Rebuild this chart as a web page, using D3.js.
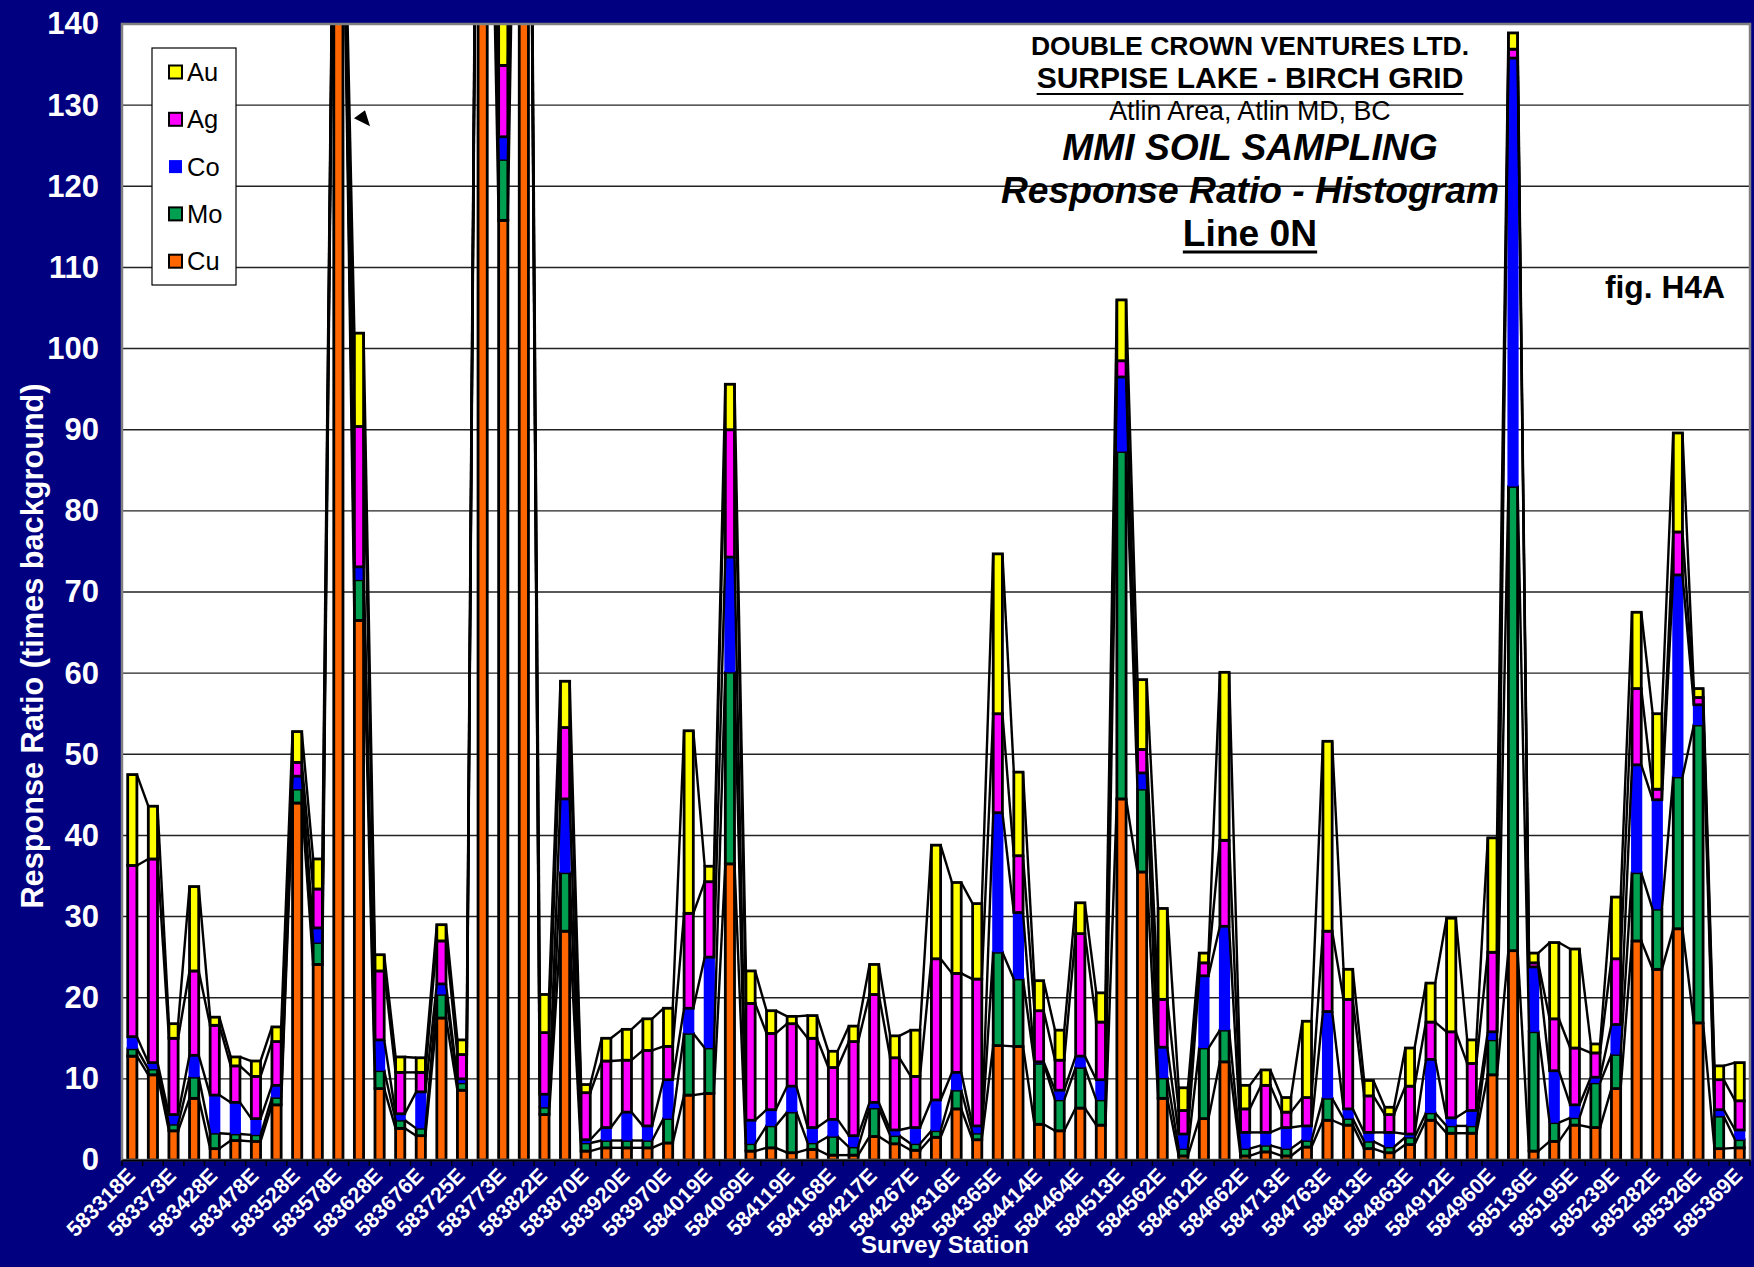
<!DOCTYPE html>
<html>
<head>
<meta charset="utf-8">
<script src="https://cdn.jsdelivr.net/npm/d3@7"></script>
<style>
  html, body { margin: 0; padding: 0; background: #000080; }
  svg { display: block; font-family: "Liberation Sans", Arial, sans-serif; }
</style>
</head>
<body>
<div id="chart"></div>
<script>
// -------------------- dados --------------------
const stations = [
  "583318E","583345E","583373E","583400E","583428E","583453E","583478E","583503E",
  "583528E","583553E","583578E","583603E","583628E","583652E","583676E","583700E",
  "583725E","583749E","583773E","583797E","583822E","583846E","583870E","583895E",
  "583920E","583945E","583970E","583994E","584019E","584044E","584069E","584094E",
  "584119E","584143E","584168E","584192E","584217E","584242E","584267E","584291E",
  "584316E","584340E","584365E","584389E","584414E","584439E","584464E","584488E",
  "584513E","584537E","584562E","584587E","584612E","584637E","584662E","584687E",
  "584713E","584738E","584763E","584788E","584813E","584838E","584863E","584887E",
  "584912E","584936E","584960E","585048E","585136E","585165E","585195E","585217E",
  "585239E","585260E","585282E","585304E","585326E","585347E","585369E"
];

// segment values, stacked bottom -> top: Cu, Mo, Co, Ag, Au
const cu = [12.8,10.5,3.6,7.6,1.4,2.4,2.3,6.8,44.0,24.1,160,66.5,8.8,3.9,3.0,17.5,
  8.6,190,115.8,200,5.6,28.2,1.1,1.5,1.5,1.5,2.1,8.0,8.2,36.5,1.1,1.5,
  0.9,1.3,0.6,0.6,2.9,2.0,1.2,2.8,6.3,2.5,14.1,14.0,4.4,3.6,6.4,4.3,
  44.5,35.5,7.6,0.5,5.1,12.1,0.5,1.0,0.5,1.6,4.9,4.3,1.4,0.9,1.9,4.9,
  3.3,3.3,10.5,25.8,1.1,2.3,4.3,4.0,8.8,27.0,23.5,28.5,16.9,1.4,1.5];
const mo = [0.9,0.7,0.8,2.6,1.9,0.8,0.8,0.9,1.7,2.7,2,5.0,2.2,1.0,0.9,2.9,
  0.9,3,7.5,3,0.9,7.2,1.0,0.9,0.9,0.9,3.0,7.6,5.6,23.6,0.9,2.7,
  5.0,0.8,2.3,1.0,3.5,1.0,0.8,0.8,2.3,0.8,11.5,8.3,7.5,3.8,5.0,3.1,
  42.8,10.2,2.5,0.9,8.7,3.9,0.9,0.8,0.9,0.8,2.7,0.8,0.9,0.7,0.9,0.9,
  0.9,0.9,4.3,57.2,14.7,2.3,0.9,5.5,4.2,8.4,7.4,18.7,36.7,4.0,1.0];
const co = [1.5,0.8,1.2,2.7,4.7,3.9,2.0,1.5,1.6,1.8,1,1.6,3.8,0.8,4.5,1.3,
  0.5,1,2.8,1,1.6,9.1,0.4,1.6,3.5,1.8,4.8,3.1,11.2,14.2,2.9,2.0,
  3.2,1.9,2.1,1.4,0.7,0.7,2.0,3.8,2.2,0.9,17.2,8.2,0.2,1.2,1.4,2.5,
  9.2,2.0,3.8,1.8,8.9,12.8,2.0,1.6,2.6,1.8,10.7,1.2,1.1,1.8,0.4,6.6,
  1.0,1.9,1.0,52.8,8.0,6.4,1.6,0.7,3.7,13.3,13.5,24.9,2.5,0.8,1.2];
const ag = [21.1,25.1,9.4,10.4,8.6,4.5,5.2,5.4,1.7,4.8,1.5,17.3,8.5,5.1,2.4,5.3,
  3.0,2,8.8,2,7.6,8.8,5.8,8.2,6.4,9.3,4.1,11.7,9.3,15.7,14.4,9.4,
  7.7,11.0,6.4,11.6,13.3,8.9,6.3,17.4,12.2,18.1,12.2,7.0,6.3,3.7,15.1,7.1,
  2.0,2.9,5.9,2.9,1.6,10.6,2.9,5.8,1.9,3.5,9.9,13.5,4.5,2.2,5.9,4.6,
  10.6,5.8,9.8,1.1,0.5,6.4,7.0,3.0,8.1,9.4,1.3,5.3,0.9,3.7,3.6];
const au = [11.2,6.5,1.8,10.4,1.0,1.1,1.9,1.8,3.8,3.7,1.5,11.5,2.0,1.9,1.8,2.0,
  1.8,2,14.2,2,4.7,5.7,1.0,2.8,3.8,3.9,4.7,22.5,1.9,5.6,4.0,2.8,
  0.9,2.8,2.0,1.9,3.7,2.7,5.7,14.0,11.2,9.3,19.7,10.3,3.7,3.7,3.8,3.6,
  7.5,8.6,11.2,2.8,1.2,20.7,2.9,1.9,1.8,9.4,23.4,3.7,1.9,0.9,4.7,4.8,
  14.0,2.9,14.1,2.0,1.2,9.4,12.2,1.1,7.6,9.4,9.3,12.2,1.1,1.7,4.7];

const yTicks = [0,10,20,30,40,50,60,70,80,90,100,110,120,130,140];

const seriesKeys   = ["Cu","Mo","Co","Ag","Au"];
const seriesColors = { Cu: "#FF6600", Mo: "#00A050", Co: "#0000FF", Ag: "#FF00FF", Au: "#FFFF00" };
const legendOrder  = ["Au","Ag","Co","Mo","Cu"];

const titleLines = [
  { text: "DOUBLE CROWN VENTURES LTD.", size: 26.5, weight: "bold", style: "normal", y: 55, under: false },
  { text: "SURPISE LAKE - BIRCH GRID",  size: 30,   weight: "bold", style: "normal", y: 88, under: true },
  { text: "Atlin Area, Atlin MD, BC",   size: 26.8, weight: "normal", style: "normal", y: 120, under: false },
  { text: "MMI SOIL SAMPLING",          size: 37.2, weight: "bold", style: "italic", y: 160, under: false },
  { text: "Response Ratio - Histogram", size: 37.2, weight: "bold", style: "italic", y: 203, under: false },
  { text: "Line 0N",                    size: 37.2, weight: "bold", style: "normal", y: 246, under: true }
];

// -------------------- layout --------------------
const W = 1754, H = 1267;
const plot = { left: 122, top: 24, right: 1750, bottom: 1160 };
const barW = 9.2;

const rows = stations.map((s, i) => ({ station: s, Cu: cu[i], Mo: mo[i], Co: co[i], Ag: ag[i], Au: au[i] }));
const stacked = d3.stack().keys(seriesKeys)(rows);

const x = d3.scaleBand().domain(stations).range([plot.left, plot.right]);
const y = d3.scaleLinear().domain([0, 140]).range([plot.bottom, plot.top]);
const cx = s => x(s) + x.bandwidth() / 2;

const svg = d3.select("#chart").append("svg")
  .attr("width", W).attr("height", H).attr("viewBox", `0 0 ${W} ${H}`);

svg.append("rect").attr("width", W).attr("height", H).attr("fill", "#000080");

svg.append("defs").append("clipPath").attr("id", "plotclip")
  .append("rect")
  .attr("x", plot.left).attr("y", plot.top)
  .attr("width", plot.right - plot.left).attr("height", plot.bottom - plot.top);

// area do grafico
svg.append("rect")
  .attr("x", plot.left).attr("y", plot.top)
  .attr("width", plot.right - plot.left).attr("height", plot.bottom - plot.top)
  .attr("fill", "#ffffff");

// grade
svg.append("g")
  .selectAll("line")
  .data(yTicks.filter(t => t > 0 && t < 140))
  .join("line")
  .attr("x1", plot.left).attr("x2", plot.right)
  .attr("y1", d => y(d)).attr("y2", d => y(d))
  .attr("stroke", "#222").attr("stroke-width", 1.4);

const body = svg.append("g").attr("clip-path", "url(#plotclip)");

// barras empilhadas (Co sem contorno, um pouco mais larga como no Excel)
stacked.forEach(layer => {
  const key = layer.key;
  const w = key === "Co" ? barW + 2 : barW;
  body.append("g")
    .selectAll("rect")
    .data(layer)
    .join("rect")
    .attr("x", d => cx(d.data.station) - w / 2)
    .attr("y", d => y(d[1]))
    .attr("width", w)
    .attr("height", d => Math.max(0, y(d[0]) - y(d[1])))
    .attr("fill", seriesColors[key])
    .attr("stroke", key === "Co" ? "none" : "#000")
    .attr("stroke-width", 2.8);
});

// linhas de serie (ligam o topo de cada segmento entre colunas vizinhas)
stacked.forEach(layer => {
  const segs = d3.pairs(layer);
  body.append("g")
    .selectAll("line")
    .data(segs)
    .join("line")
    .attr("x1", d => cx(d[0].data.station) + barW / 2)
    .attr("y1", d => y(d[0][1]))
    .attr("x2", d => cx(d[1].data.station) - barW / 2)
    .attr("y2", d => y(d[1][1]))
    .attr("stroke", "#000").attr("stroke-width", 2.4);
});

// borda
svg.append("rect")
  .attr("x", plot.left).attr("y", plot.top)
  .attr("width", plot.right - plot.left).attr("height", plot.bottom - plot.top)
  .attr("fill", "none").attr("stroke", "#808080").attr("stroke-width", 2.5);

// eixo Y
const yAxis = svg.append("g")
  .attr("transform", `translate(${plot.left},0)`)
  .call(d3.axisLeft(y).tickValues(yTicks).tickSize(0).tickPadding(23));
yAxis.select(".domain").remove();
yAxis.selectAll("text")
  .attr("fill", "#fff").attr("font-size", 31).attr("font-weight", "bold")
  .attr("font-family", "Liberation Sans, Arial, sans-serif");

// eixo X
const xAxis = svg.append("g")
  .attr("transform", `translate(0,${plot.bottom})`)
  .call(d3.axisBottom(x).tickSize(0).tickFormat((d, i) => i % 2 === 0 ? d : ""));
xAxis.select(".domain").attr("stroke", "#000").attr("stroke-width", 2.2);
xAxis.selectAll("text")
  .attr("fill", "#fff").attr("font-size", 21.5).attr("font-weight", "bold")
  .attr("font-family", "Liberation Sans, Arial, sans-serif")
  .attr("text-anchor", "end")
  .attr("dy", null).attr("y", null)
  .attr("transform", "translate(4,17) rotate(-45)");

// tracos entre as colunas
svg.append("g")
  .selectAll("line")
  .data(stations.map(s => x(s)).concat([plot.right]))
  .join("line")
  .attr("x1", d => d).attr("x2", d => d)
  .attr("y1", plot.bottom).attr("y2", plot.bottom + 6)
  .attr("stroke", "#000").attr("stroke-width", 1.5);

// titulos dos eixos
svg.append("text")
  .attr("transform", `translate(43,${(plot.top + plot.bottom) / 2 + 54}) rotate(-90)`)
  .attr("text-anchor", "middle")
  .attr("fill", "#fff").attr("font-size", 30.7).attr("font-weight", "bold")
  .text("Response Ratio (times background)");

svg.append("text")
  .attr("x", 945).attr("y", 1253)
  .attr("text-anchor", "middle")
  .attr("fill", "#fff").attr("font-size", 24).attr("font-weight", "bold")
  .text("Survey Station");

// legenda
const leg = svg.append("g");
leg.append("rect")
  .attr("x", 152).attr("y", 48).attr("width", 84).attr("height", 237)
  .attr("fill", "#fff").attr("stroke", "#000").attr("stroke-width", 1.2);
const item = leg.selectAll("g.item")
  .data(legendOrder)
  .join("g").attr("class", "item")
  .attr("transform", (d, i) => `translate(169,${72 + i * 47.3})`);
item.append("rect")
  .attr("x", 0).attr("y", -6.5).attr("width", 13).attr("height", 13)
  .attr("fill", d => seriesColors[d])
  .attr("stroke", d => d === "Co" ? "none" : "#000").attr("stroke-width", 2);
item.append("text")
  .attr("x", 18).attr("y", 0).attr("dy", "0.36em")
  .attr("fill", "#000").attr("font-size", 25.5)
  .text(d => d);

// bloco de titulo
const tg = svg.append("g");
titleLines.forEach(t => {
  const el = tg.append("text")
    .attr("x", 1250).attr("y", t.y)
    .attr("text-anchor", "middle")
    .attr("fill", "#000")
    .attr("font-size", t.size).attr("font-weight", t.weight).attr("font-style", t.style)
    .text(t.text);
  if (t.under) {
    const len = el.node().getComputedTextLength();
    tg.append("line")
      .attr("x1", 1250 - len / 2).attr("x2", 1250 + len / 2)
      .attr("y1", t.y + 6).attr("y2", t.y + 6)
      .attr("stroke", "#000").attr("stroke-width", t.size > 32 ? 3 : 2.2);
  }
});

svg.append("text")
  .attr("x", 1725).attr("y", 298)
  .attr("text-anchor", "end")
  .attr("fill", "#000").attr("font-size", 31.8).attr("font-weight", "bold")
  .text("fig. H4A");

// seta (anotacao perto da coluna 583603E)
const ax = cx(stations[11]), ay = y(130);
svg.append("path")
  .attr("d", `M${ax - 5},${ay + 13} L${ax + 6},${ay + 5} L${ax + 11},${ay + 21} Z`)
  .attr("fill", "#000");
</script>
</body>
</html>
